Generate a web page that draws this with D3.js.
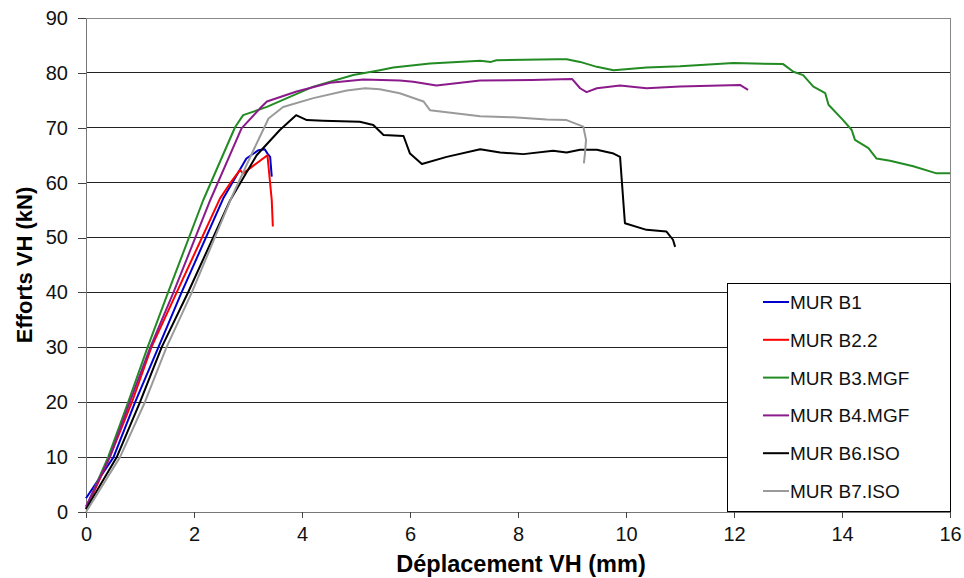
<!DOCTYPE html>
<html>
<head>
<meta charset="utf-8">
<style>
  body { margin: 0; background: #fff; }
  svg text { font-family: "Liberation Sans", Arial, sans-serif; }
</style>
</head>
<body>
<svg></svg>
<script src="https://d3js.org/d3.v7.min.js"></script>
<script>
  const width = 964, height = 578;
  const margin = {top: 18, right: 14, bottom: 66, left: 86};

  // data: [déplacement (mm), effort (kN)]
  const murB1 = [[0,2.5],[0.51,10],[0.91,20],[1.34,30],[1.77,40],[2.54,57.1],[2.97,64.4],
    [3.19,65.9],[3.31,66.1],[3.36,65.3],[3.41,64.7],[3.44,61.1]];
  const murB22 = [[0,0.5],[0.44,10],[0.85,20],[1.21,30],[1.68,40],[2.48,57.1],[2.67,59.9],
    [2.85,62.3],[2.91,61.7],[3.36,65.0],[3.44,56.8],[3.46,52.0]];
  const murB3 = [[0,0.7],[0.2,5.3],[0.41,10],[0.78,20],[1.14,30],[1.52,40],[2.17,56.8],
    [2.76,70.1],[2.91,72.3],[3.35,73.8],[4.21,77.5],[4.95,79.6],[5.44,80.5],[5.69,81.0],
    [6.37,81.7],[7.30,82.2],[7.5,82.0],[7.6,82.3],[8.72,82.5],[8.90,82.5],[9.15,82.0],
    [9.46,81.1],[9.77,80.5],[10.38,81.0],[11.0,81.2],[11.99,81.8],[12.91,81.6],[13.10,80.2],
    [13.28,79.6],[13.47,77.5],[13.69,76.3],[13.75,74.2],[14.02,71.4],[14.18,69.6],[14.24,67.8],
    [14.49,66.3],[14.64,64.4],[14.89,64.0],[15.32,63.0],[15.75,61.7],[16.0,61.7]];
  const murB4 = [[0,1],[0.44,10],[0.81,20],[1.19,30],[1.62,40],[2.30,56.8],[2.88,69.9],
    [3.22,73.5],[3.35,74.8],[3.90,76.6],[4.52,78.2],[5.14,78.8],[5.81,78.6],[6.06,78.4],
    [6.49,77.7],[7.30,78.6],[8.25,78.7],[9.0,78.9],[9.15,77.2],[9.27,76.5],[9.46,77.2],
    [9.89,77.7],[10.38,77.2],[11.0,77.5],[12.11,77.8],[12.26,76.9]];
  const murB6 = [[0,0.5],[0.57,10],[1.0,20],[1.40,30],[1.89,40],[2.67,56.8],[3.16,65.0],
    [3.59,69.6],[3.89,72.3],[4.09,71.4],[4.39,71.3],[5.07,71.1],[5.32,70.5],[5.51,68.7],
    [5.88,68.5],[6.0,65.3],[6.22,63.4],[6.68,64.7],[7.30,66.1],[7.67,65.5],[8.10,65.2],
    [8.65,65.8],[8.90,65.5],[9.15,66.0],[9.46,66.0],[9.77,65.3],[9.89,64.7],[9.98,52.6],
    [10.38,51.4],[10.75,51.1],[10.87,49.6],[10.91,48.3]];
  const murB7 = [[0,0],[0.63,10],[1.09,20],[1.49,30],[1.96,40],[2.70,57.4],[3.10,65.9],
    [3.38,71.7],[3.65,73.8],[4.21,75.4],[4.83,76.8],[5.17,77.2],[5.44,77.0],[5.81,76.3],
    [6.25,74.8],[6.37,73.2],[7.30,72.1],[7.91,71.9],[8.53,71.5],[8.90,71.4],[9.21,70.2],
    [9.26,67.8],[9.24,65.3],[9.22,63.5]];

  const seriesNames = ["MUR B1", "MUR B2.2", "MUR B3.MGF", "MUR B4.MGF", "MUR B6.ISO", "MUR B7.ISO"];
  const seriesData = [murB1, murB22, murB3, murB4, murB6, murB7];
  const seriesColors = ["#0000cc", "#ff0000", "#238b23", "#8b1a8b", "#000000", "#9a9a9a"];
  const xTicks = [0, 2, 4, 6, 8, 10, 12, 14, 16];
  const yTicks = [0, 10, 20, 30, 40, 50, 60, 70, 80, 90];

  const svg = d3.select('svg').attr('width', width).attr('height', height);

  const x = d3.scaleLinear().domain([0, 16]).range([margin.left, width - margin.right]);
  const y = d3.scaleLinear().domain([0, 90]).range([height - margin.bottom, margin.top]);

  // horizontal grid
  svg.append('g')
    .selectAll('line').data(yTicks.slice(1)).enter().append('line')
    .attr('x1', x(0)).attr('x2', x(16))
    .attr('y1', d => y(d)).attr('y2', d => y(d))
    .style('stroke', d => d === 90 ? '#888' : '#222')
    .style('stroke-width', 1)
    .attr('shape-rendering', 'crispEdges');

  // right border of plot area
  svg.append('line')
    .attr('x1', x(16)).attr('x2', x(16)).attr('y1', y(90)).attr('y2', y(0))
    .style('stroke', '#888').attr('shape-rendering', 'crispEdges');

  // axes
  const xAxis = svg.append('g')
    .attr('transform', `translate(0,${y(0)})`)
    .call(d3.axisBottom(x).tickValues(xTicks).tickSize(6).tickPadding(9).tickSizeOuter(0));
  const yAxis = svg.append('g')
    .attr('transform', `translate(${x(0)},0)`)
    .call(d3.axisLeft(y).tickValues(yTicks).tickSize(8).tickPadding(10).tickSizeOuter(0));

  [xAxis, yAxis].forEach(a => {
    a.select('.domain').style('stroke', '#777').attr('shape-rendering', 'crispEdges');
    a.selectAll('.tick line').style('stroke', '#444').attr('shape-rendering', 'crispEdges');
    a.selectAll('text').style('font-size', '20px').style('fill', '#111')
      .style('font-family', '"Liberation Sans", Arial, sans-serif');
  });

  // curves
  const line = d3.line().x(d => x(d[0])).y(d => y(d[1]));
  svg.append('g')
    .selectAll('path').data(seriesData).enter().append('path')
    .attr('d', line)
    .style('fill', 'none')
    .style('stroke', (d, i) => seriesColors[i])
    .style('stroke-width', 2)
    .style('stroke-linejoin', 'round');

  // axis titles
  svg.append('text')
    .attr('x', (x(0) + x(16)) / 2 + 3).attr('y', 572)
    .attr('text-anchor', 'middle')
    .style('font-size', '23.5px').style('font-weight', 'bold')
    .text('Déplacement VH (mm)');

  svg.append('text')
    .attr('transform', `translate(32,${265}) rotate(-90)`)
    .attr('text-anchor', 'middle')
    .style('font-size', '22px').style('font-weight', 'bold')
    .text('Efforts VH (kN)');

  // legend
  const legend = svg.append('g').attr('transform', 'translate(727,283)');
  legend.append('rect')
    .attr('width', 223).attr('height', 228)
    .style('fill', '#fff').style('stroke', '#000').style('stroke-width', 1)
    .attr('shape-rendering', 'crispEdges');
  const items = legend.selectAll('g.item').data(seriesNames).enter().append('g')
    .attr('class', 'item')
    .attr('transform', (d, i) => `translate(0,${19 + i * 37.8})`);
  items.append('line')
    .attr('x1', 36).attr('x2', 62).attr('y1', 0).attr('y2', 0)
    .style('stroke', (d, i) => seriesColors[i]).style('stroke-width', 2);
  items.append('text')
    .attr('x', 63).attr('y', 7)
    .style('font-size', '19px').style('fill', '#111')
    .text(d => d);
</script>
</body>
</html>
